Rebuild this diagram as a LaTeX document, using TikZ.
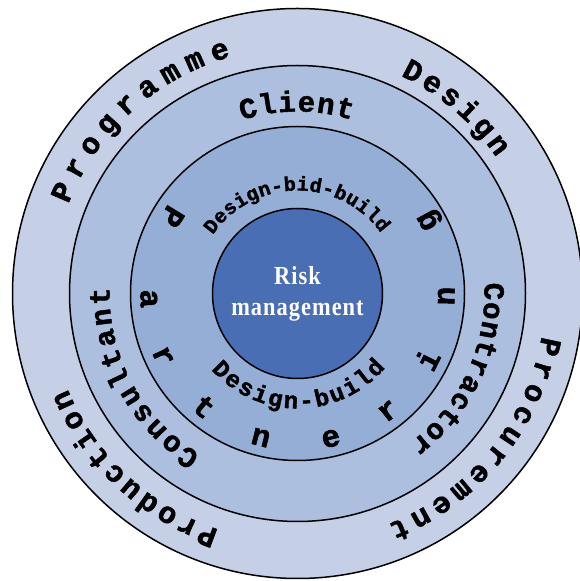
\documentclass[tikz,border=0pt]{standalone}
\usepackage{fontspec}
\usepackage{tikz}
\newfontfamily\slab[FakeBold=1.6]{Liberation Mono}
\newfontfamily\riskfont[FakeStretch=0.86,LetterSpace=4]{Liberation Serif}
\definecolor{ringA}{RGB}{197,208,230}
\definecolor{ringB}{RGB}{173,191,223}
\definecolor{ringC}{RGB}{149,174,214}
\definecolor{core}{RGB}{74,110,180}

% letters set one by one round (c): style, name, radius, first angle, step, turn, letters
\newcommand{\arcword}[7]{%
  \foreach \ch [count=\i] in {#7} {
    \pgfmathsetmacro\ang{#4+(\i-1)*(#5)}
    \node[#1, rotate=\ang+(#6)] (#2\i) at ([shift={(\ang:#3)}]c) {\ch};
  }}

\begin{document}
\begin{tikzpicture}[x=1pt,y=1pt]
  \tikzstyle{ring}=[draw=black, line width=1.5pt]
  \tikzstyle{letter}=[inner sep=0pt, anchor=base]
  \tikzstyle{outerletter}=[letter, font=\slab\bfseries\fontsize{30}{30}\selectfont]
  \tikzstyle{roleletter}=[letter, font=\slab\bfseries\fontsize{29}{29}\selectfont]
  \tikzstyle{partletter}=[letter, font=\slab\bfseries\fontsize{31}{31}\selectfont]
  \tikzstyle{bidletter}=[letter, font=\slab\bfseries\fontsize{20}{20}\selectfont]
  \tikzstyle{buildletter}=[letter, font=\slab\bfseries\fontsize{24}{24}\selectfont]
  \useasboundingbox (0,0) rectangle (579,581);
  \coordinate (c) at (297.5,287.5);
  % rings
  \draw[ring, fill=ringA] (c) circle (285);
  \draw[ring, fill=ringB] (c) circle (228);
  \draw[ring, fill=ringC] (c) circle (167);
  \node[ring, circle, fill=core, minimum size=170, inner sep=0pt, text=white, align=center,
        font=\riskfont\bfseries\fontsize{26}{31}\selectfont] (risk) at (c) {Risk\\management};
  % outer ring
  \arcword{outerletter}{prog}{246}{156.6}{-6.1}{-90}{P,r,o,g,r,a,m,m,e}
  \arcword{outerletter}{des}{241}{62.5}{-5.2}{-90}{D,e,s,i,g,n}
  \arcword{outerletter}{proc}{248}{-12}{-5.46}{-90}{P,r,o,c,u,r,e,m,e,n,t}
  \arcword{outerletter}{prod}{249}{249.5}{-4.99}{-90}{P,r,o,d,u,c,t,i,o,n}
  % parties
  \arcword{roleletter}{cli}{182}{105}{-5.9}{-90}{C,l,i,e,n,t}
  \arcword{roleletter}{con}{187}{0.6}{-5.7}{-90}{C,o,n,t,r,a,c,t,o,r}
  \arcword{roleletter}{cons}{188}{236.2}{-6.15}{-90}{C,o,n,s,u,l,t,a,n,t}
  % routes
  \arcword{bidletter}{dbb}{103}{142}{-6.85}{-90}{D,e,s,i,g,n,-,b,i,d,-,b,u,i,l,d}
  \arcword{buildletter}{db}{115}{225}{8.3}{90}{D,e,s,i,g,n,-,b,u,i,l,d}
  \foreach \ch/\ang [count=\i] in {P/148.5,a/182,r/205,t/230.5,n/255.7,e/283,r/307.7,i/333,n/359,g/389}
    \node[partletter, rotate=\ang+90] (part\i) at ([shift={(\ang:157)}]c) {\ch};
\end{tikzpicture}
\end{document}
